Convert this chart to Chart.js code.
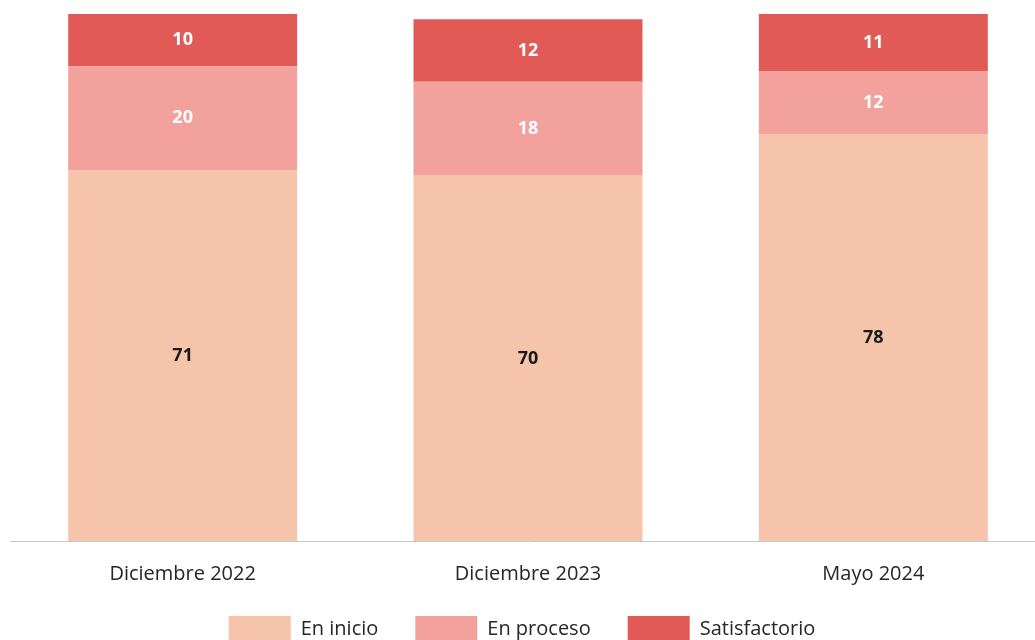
<!DOCTYPE html>
<html>
<head>
<meta charset="utf-8">
<script src="https://cdn.jsdelivr.net/npm/chart.js@4"></script>
<style>
  body { margin: 0; background: #fff; overflow: hidden; }
  #wrap { width: 1046px; height: 660px; }
</style>
</head>
<body>
<div id="wrap"><canvas id="nivelesChart"></canvas></div>
<script>
const periodos = ["Diciembre 2022", "Diciembre 2023", "Mayo 2024"];
const enInicio = [71, 70, 78];
const enProceso = [20, 18, 12];
const satisfactorio = [10, 12, 11];

const FONT = "'Open Sans', sans-serif";

// writes each segment's value in the middle of its bar piece
const segmentLabels = {
    id: "segmentLabels",
    afterDatasetsDraw(chart) {
        const ctx = chart.ctx;
        ctx.save();
        ctx.textAlign = "center";
        ctx.textBaseline = "middle";
        ctx.font = "bold 18px " + FONT;
        chart.data.datasets.forEach((ds, i) => {
            const meta = chart.getDatasetMeta(i);
            meta.data.forEach((bar, j) => {
                const mid = (bar.y + bar.base) / 2;
                ctx.fillStyle = ds.labelColor;
                ctx.fillText(ds.data[j], bar.x, mid);
            });
        });
        ctx.restore();
    }
};

// nudge the legend a little up and to the left
const legendShift = {
    id: "legendShift",
    afterLayout(chart) {
        const lg = chart.legend;
        lg.left -= 6;
        lg.right -= 6;
        lg.top -= 8;
        lg.bottom -= 8;
    }
};

new Chart(document.getElementById("nivelesChart"), {
    type: "bar",
    data: {
        labels: periodos,
        datasets: [
            { label: "En inicio", data: enInicio, backgroundColor: "#F5C4AB", labelColor: "#1a1a1a" },
            { label: "En proceso", data: enProceso, backgroundColor: "#F3A19C", labelColor: "#ffffff" },
            { label: "Satisfactorio", data: satisfactorio, backgroundColor: "#E15A55", labelColor: "#ffffff" }
        ]
    },
    options: {
        responsive: true,
        maintainAspectRatio: false,
        animation: false,
        layout: { padding: { left: 10, right: 0, top: 14, bottom: 0 } },
        datasets: { bar: { barPercentage: 0.663, categoryPercentage: 1, borderWidth: 0 } },
        scales: {
            x: {
                stacked: true,
                grid: { display: false, drawTicks: false },
                border: { display: true, color: "#C8C8C8", width: 1 },
                ticks: { color: "#262626", font: { family: FONT, size: 20 }, padding: 21 },
                afterFit(scale) { scale.height = 46; }
            },
            y: {
                stacked: true,
                display: false,
                min: 0,
                max: 101
            }
        },
        plugins: {
            legend: {
                position: "bottom",
                labels: {
                    boxWidth: 62,
                    boxHeight: 26,
                    padding: 37,
                    color: "#262626",
                    font: { family: FONT, size: 20 }
                }
            },
            tooltip: { enabled: false }
        }
    },
    plugins: [segmentLabels, legendShift]
});
</script>
</body>
</html>
